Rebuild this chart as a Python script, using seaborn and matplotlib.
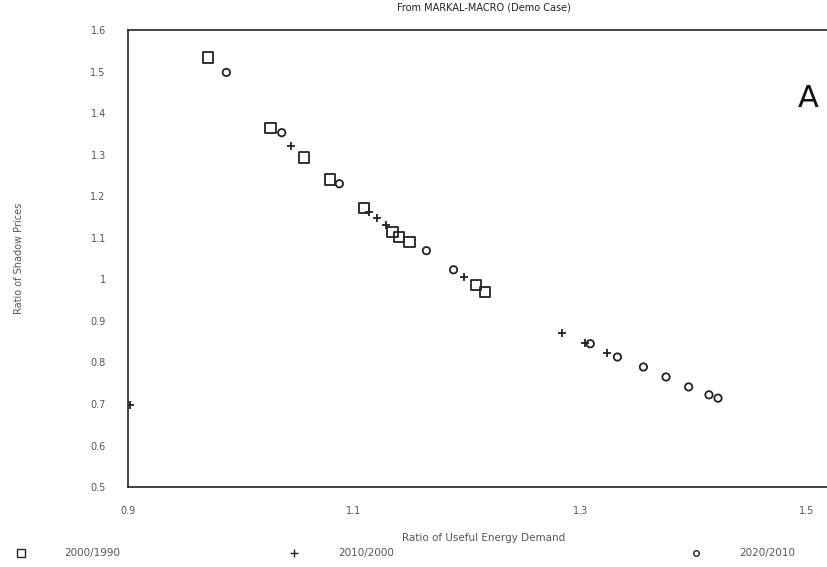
import numpy as np
import pandas as pd
import matplotlib
matplotlib.use("Agg")
import matplotlib.pyplot as plt
import seaborn as sns
from matplotlib.lines import Line2D

# Data
sq_x = [0.971, 1.026, 1.056, 1.079, 1.109, 1.134, 1.140, 1.149, 1.208, 1.216]
sq_y = [1.534, 1.365, 1.293, 1.240, 1.172, 1.114, 1.102, 1.090, 0.987, 0.970]

plus_x = [0.902, 1.044, 1.113, 1.120, 1.128, 1.197, 1.284, 1.304, 1.324]
plus_y = [0.698, 1.322, 1.163, 1.148, 1.131, 1.006, 0.871, 0.847, 0.823]

circ_x = [0.987, 1.036, 1.087, 1.164, 1.188, 1.309, 1.333, 1.356, 1.376, 1.396, 1.414, 1.422]
circ_y = [1.498, 1.353, 1.230, 1.069, 1.023, 0.845, 0.813, 0.789, 0.765, 0.741, 0.722, 0.714]

labels = ["2000/1990", "2010/2000", "2020/2010"]

df = pd.concat([
    pd.DataFrame({"x": sq_x, "y": sq_y, "series": labels[0]}),
    pd.DataFrame({"x": plus_x, "y": plus_y, "series": labels[1]}),
    pd.DataFrame({"x": circ_x, "y": circ_y, "series": labels[2]}),
])

sns.set_style("white")
plt.rcParams['font.family'] = ['DejaVu Sans']
ink = "#222222"
txt = "#555555"

fig = plt.figure(figsize=(8.28, 5.67), dpi=100)
ax = fig.add_axes([0.1546, 0.141, 0.86, 0.806])

sns.scatterplot(data=df[df.series == labels[0]], x="x", y="y", marker="s", s=55,
                facecolor="none", edgecolor=ink, linewidth=1.3, ax=ax, legend=False)
sns.scatterplot(data=df[df.series == labels[1]], x="x", y="y", marker="+", s=40,
                color=ink, linewidth=1.3, ax=ax, legend=False)
sns.scatterplot(data=df[df.series == labels[2]], x="x", y="y", marker="o", s=28,
                facecolor="none", edgecolor=ink, linewidth=1.3, ax=ax, legend=False)

ax.set_xlim(0.9, 1.53)
ax.set_ylim(0.5, 1.6)
ax.set_xticks(np.arange(0.9, 1.51, 0.1))
ax.set_xticklabels(["0.9", "", "1.1", "", "1.3", "", "1.5"])
ax.set_yticks(np.arange(0.5, 1.61, 0.1))
ax.set_yticklabels(["0.5", "0.6", "0.7", "0.8", "0.9", "1", "1.1", "1.2", "1.3", "1.4", "1.5", "1.6"])
ax.tick_params(axis="x", direction="in", length=5, width=1, colors=ink, labelcolor=txt,
               labelsize=7, pad=14)
ax.tick_params(axis="y", direction="out", length=6, width=1, colors=ink, labelcolor=txt,
               labelsize=7, pad=10)
for side in ["left", "bottom", "top"]:
    ax.spines[side].set_color(ink)
    ax.spines[side].set_linewidth(1.2)
ax.spines["right"].set_visible(False)

ax.set_xlabel("Ratio of Useful Energy Demand", fontsize=7.5, color=txt, labelpad=12)
ax.set_ylabel("Ratio of Shadow Prices", fontsize=7, color=txt, labelpad=48)
ax.set_title("From MARKAL-MACRO (Demo Case)", fontsize=7, color=ink, pad=14)
ax.text(0.955, 0.85, "A", transform=ax.transAxes, fontsize=22, color="#111111",
        ha="center", va="center")

# legend entries spread along the bottom
handles = [
    Line2D([], [], marker="s", ls="", mfc="none", mec=ink, ms=6),
    Line2D([], [], marker="+", ls="", color=ink, ms=6),
    Line2D([], [], marker="o", ls="", mfc="none", mec=ink, ms=4),
]
anchors = [(0.005, 0.004), (0.335, 0.004), (0.82, 0.004)]
for h, lab, anc in zip(handles, labels, anchors):
    fig.legend([h], [lab], loc="lower left", bbox_to_anchor=anc, frameon=False,
               fontsize=7.5, labelcolor=txt, handletextpad=3.2, borderaxespad=0.2)

fig.savefig("out.png", dpi=100)
